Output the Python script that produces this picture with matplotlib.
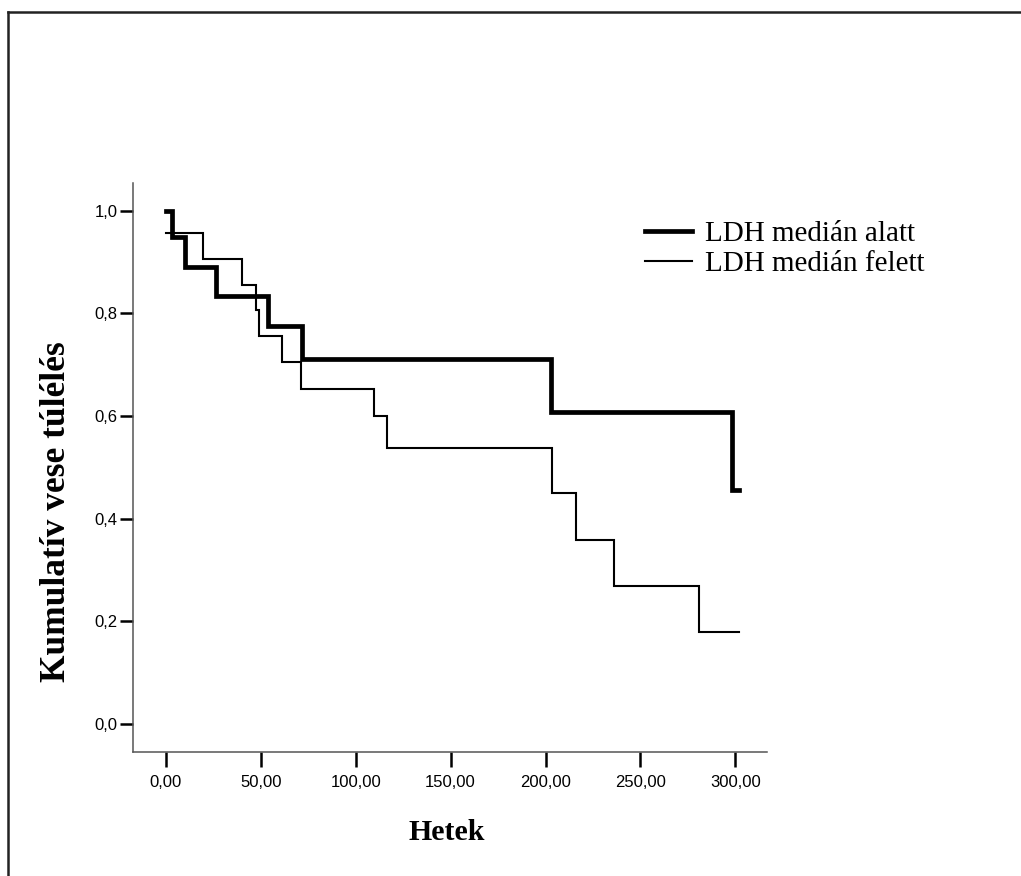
import matplotlib.pyplot as plt
from matplotlib.lines import Line2D

# Kaplan-Meier steps (weeks, cumulative survival)
alatt_t = [0, 3.5, 10, 26.6, 53.6, 71.5, 203, 298.2, 302]
alatt_s = [1.0, 0.949, 0.89, 0.834, 0.776, 0.711, 0.608, 0.456, 0.456]

felett_t = [0, 19.5, 40.3, 47.6, 49, 61, 71.3, 109.5, 116.3, 203.2, 216, 236, 281, 302]
felett_s = [0.956, 0.906, 0.856, 0.807, 0.756, 0.705, 0.652, 0.600, 0.538,
            0.449, 0.359, 0.268, 0.178, 0.178]

labels = ['LDH medián alatt', 'LDH medián felett']
xticks = [0, 50, 100, 150, 200, 250, 300]
yticks = [0.0, 0.2, 0.4, 0.6, 0.8, 1.0]

W, H = 1021, 876
fig = plt.figure(figsize=(W / 100, H / 100), dpi=100)
ax = fig.add_axes([133.3 / W, 1 - 752 / H, (766.7 - 133.3) / W, (752 - 182.7) / H])

ax.plot(alatt_t, alatt_s, drawstyle='steps-post', color='black', lw=3.4,
        solid_joinstyle='miter', label=labels[0])
ax.plot(felett_t, felett_s, drawstyle='steps-post', color='black', lw=1.5,
        solid_joinstyle='miter', label=labels[1])

ax.set_xlim(-17.1, 316.5)
ax.set_ylim(-0.055, 1.0546)

ax.set_xticks(xticks)
ax.set_xticklabels([f'{v:.2f}'.replace('.', ',') for v in xticks],
                   fontfamily='Liberation Sans', fontsize=12)
ax.set_yticks(yticks)
ax.set_yticklabels([f'{v:.1f}'.replace('.', ',') for v in yticks],
                   fontfamily='Liberation Sans', fontsize=12)
ax.tick_params(axis='x', length=10.5, width=1.8, pad=6, color='black')
ax.tick_params(axis='y', length=9.5, width=1.8, pad=2, color='black')

for s in ['top', 'right']:
    ax.spines[s].set_visible(False)
for s in ['left', 'bottom']:
    ax.spines[s].set_color('#555555')
    ax.spines[s].set_linewidth(1.1)

ax.set_xlabel('Hetek', fontfamily='Liberation Serif', fontweight='bold', fontsize=21.5)
ax.xaxis.set_label_coords(0.495, -0.117)
ax.set_ylabel('Kumulatív vese túlélés', fontfamily='Liberation Serif',
              fontweight='bold', fontsize=25.5)
ax.yaxis.set_label_coords(-0.095, 0.4216)

leg = fig.legend(loc='upper left', bbox_to_anchor=(645 / W, 1 - 221 / H),
                 frameon=False, prop={'family': 'Liberation Serif', 'size': 21},
                 handlelength=1.6, handletextpad=0.45, labelspacing=0.12,
                 borderaxespad=0, borderpad=0)

# outer frame (only left and top edges visible in the original)
fig.add_artist(Line2D([7.5 / W, 7.5 / W], [0, 1 - 12 / H], color='#222222', lw=1.8))
fig.add_artist(Line2D([7.5 / W, 1], [1 - 12 / H, 1 - 12 / H], color='#222222', lw=1.8))

fig.savefig('out.png', dpi=100)
